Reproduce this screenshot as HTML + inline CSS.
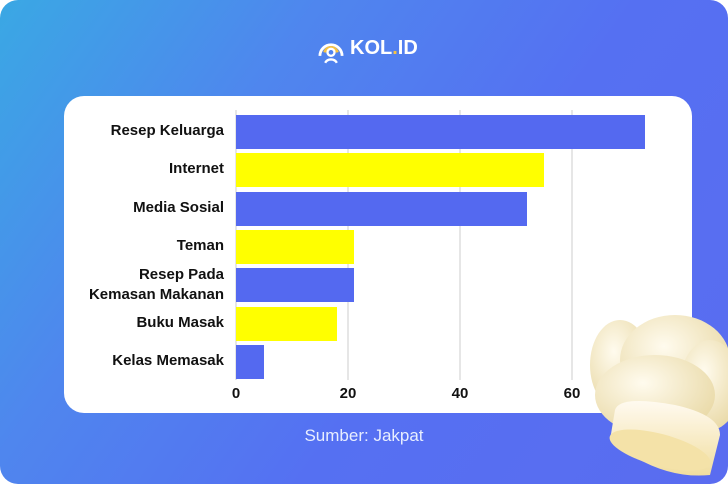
<!DOCTYPE html><html><head><style>
body{margin:0;width:728px;height:484px;overflow:hidden;background:#fff}
.bg{position:absolute;left:0;top:0;width:728px;height:484px;border-radius:18px;background:linear-gradient(125deg,#3aa8e4 0%,#4f86ee 30%,#5570f2 60%,#5a6cf0 100%)}
.card{position:absolute;left:64px;top:96px;width:628px;height:317px;background:#fff;border-radius:20px}
.lbl{position:absolute;font:bold 15px "Liberation Sans",sans-serif;color:#111;text-align:right;right:504px;line-height:20px}
.t{position:absolute;top:385px;font:bold 15px "Liberation Sans",sans-serif;color:#111;width:40px;text-align:center}
</style></head><body>
<div class="bg"></div>
<svg style="position:absolute;left:317px;top:36px" width="28" height="28" viewBox="0 0 24 24"><path d="M2.5 17 A9.5 9.5 0 0 1 21.5 17" stroke="#fff" stroke-width="2.4" fill="none"/><path d="M6.5 14 A5.7 5.7 0 0 1 17.5 14" stroke="#f6c243" stroke-width="2.4" fill="none"/><circle cx="12" cy="14" r="3" stroke="#fff" stroke-width="2" fill="none"/><path d="M7 23 A5.5 5 0 0 1 17 23" stroke="#fff" stroke-width="2" fill="none"/></svg>
<div style="position:absolute;left:350px;top:37px;font:bold 20px 'Liberation Sans',sans-serif;color:#fff">KOL<span style="color:#f6c243">.</span>ID</div>
<div class="card"></div>
<svg style="position:absolute;left:0;top:0" width="728" height="484">
<g stroke="#ccc" stroke-width="1"><line x1="236" y1="110" x2="236" y2="380"/><line x1="348" y1="110" x2="348" y2="380"/><line x1="460" y1="110" x2="460" y2="380"/><line x1="572" y1="110" x2="572" y2="380"/></g>
<rect x="236" y="115" width="409" height="34" fill="#5469f0"/>
<rect x="236" y="153" width="308" height="34" fill="#ffff00"/>
<rect x="236" y="192" width="291" height="34" fill="#5469f0"/>
<rect x="236" y="230" width="118" height="34" fill="#ffff00"/>
<rect x="236" y="268" width="118" height="34" fill="#5469f0"/>
<rect x="236" y="307" width="101" height="34" fill="#ffff00"/>
<rect x="236" y="345" width="28" height="34" fill="#5469f0"/>
</svg>
<div class="lbl" style="top:121px">Resep Keluarga</div>
<div class="lbl" style="top:159px">Internet</div>
<div class="lbl" style="top:198px">Media Sosial</div>
<div class="lbl" style="top:236px">Teman</div>
<div class="lbl" style="top:265px">Resep Pada<br>Kemasan Makanan</div>
<div class="lbl" style="top:313px">Buku Masak</div>
<div class="lbl" style="top:351px">Kelas Memasak</div>
<div class="t" style="left:216px">0</div><div class="t" style="left:328px">20</div><div class="t" style="left:440px">40</div><div class="t" style="left:552px">60</div>
<div style="position:absolute;left:0;width:728px;top:426px;text-align:center;font:17px 'Liberation Sans',sans-serif;color:#e8eeff">Sumber: Jakpat</div>
<svg style="position:absolute;left:575px;top:300px" width="153" height="184">
<defs><radialGradient id="g" cx="40%" cy="35%" r="70%"><stop offset="0" stop-color="#fffbee"/><stop offset="1" stop-color="#e9d9a6"/></radialGradient>
<linearGradient id="b" x1="0" y1="0" x2="0" y2="1"><stop offset="0" stop-color="#fffaf0"/><stop offset="1" stop-color="#f1de9f"/></linearGradient></defs>
<ellipse cx="45" cy="65" rx="30" ry="45" fill="url(#g)"/>
<ellipse cx="100" cy="60" rx="55" ry="45" fill="url(#g)"/>
<ellipse cx="135" cy="85" rx="30" ry="45" fill="url(#g)"/>
<ellipse cx="80" cy="95" rx="60" ry="40" fill="url(#g)"/>
<path d="M40 110 Q45 95 100 105 Q145 115 145 135 L135 175 Q85 180 35 140 Z" fill="url(#b)"/>
<ellipse cx="85" cy="150" rx="52" ry="16" fill="#f4e2a8" transform="rotate(15 85 150)"/>
</svg>
</body></html>
